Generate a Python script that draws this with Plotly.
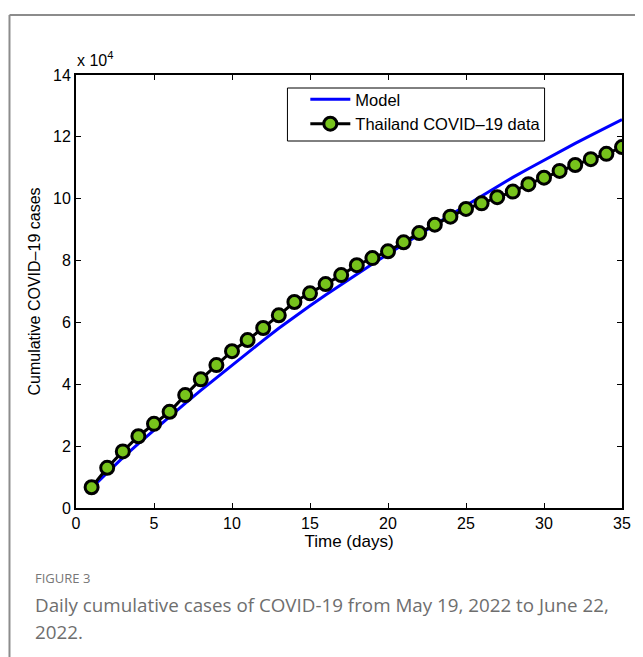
import plotly.graph_objects as go

# ---- data ----
days = list(range(1, 36))
thailand_cases = [6700, 13000, 18300, 23200, 27200, 31100, 36500, 41600, 46200, 50700,
                  54300, 58200, 62300, 66600, 69400, 72400, 75300, 78500, 80800, 83000,
                  85900, 88900, 91600, 94200, 96700, 98500, 100500, 102300, 104700, 106800,
                  109000, 110900, 112800, 114500, 116700]
model_cases = [6500, 11500, 16300, 20800, 25200, 29500, 33800, 38000, 42100, 46200,
               50200, 54200, 58100, 61800, 65400, 68900, 72300, 75600, 78900, 82100,
               85300, 88500, 91600, 94700, 97800, 100900, 104000, 106900, 109700, 112500,
               115200, 117900, 120500, 123100, 125600]
x_ticks = [0, 5, 10, 15, 20, 25, 30, 35]
y_ticks = [0, 20000, 40000, 60000, 80000, 100000, 120000, 140000]
y_tick_labels = ["0", "2", "4", "6", "8", "10", "12", "14"]

# page is 643x657; the html body has an 8px margin, so the figure starts at (8, 8)
O = 8
W, H = 643 - O, 657 - O
L, R, T, B = 76, 626, 75, 508   # plot area in page pixels
def px(x):
    return (x - L) / (R - L)
def py(y):
    return (B - y) / (B - T)

FONT = "Liberation Sans, Arial, sans-serif"

fig = go.Figure()
fig.add_trace(go.Scatter(x=days, y=model_cases, mode="lines", name="Model",
                         line=dict(color="#0000FF", width=3)))
fig.add_trace(go.Scatter(x=days, y=thailand_cases, mode="lines+markers",
                         name="Thailand COVID\u201319 data",
                         line=dict(color="black", width=3),
                         marker=dict(size=13, color="#77C31C",
                                     line=dict(color="black", width=3))))

tick_font = dict(family=FONT, size=16, color="black")
fig.update_xaxes(range=[0, 35], tickvals=x_ticks, ticks="inside", ticklen=5,
                 tickwidth=1, tickcolor="black", showline=True, linewidth=2,
                 linecolor="black", mirror="ticks", showgrid=False, zeroline=False,
                 tickfont=tick_font,
                 title=dict(text="Time (days)", font=dict(family=FONT, size=17, color="black"),
                            standoff=4))
fig.update_yaxes(range=[0, 140000], tickvals=y_ticks, ticktext=y_tick_labels,
                 ticks="inside", ticklen=5, tickwidth=1, tickcolor="black",
                 showline=True, linewidth=2, linecolor="black", mirror="ticks",
                 showgrid=False, zeroline=False, tickfont=tick_font,
                 title=dict(text="Cumulative COVID\u201319 cases",
                            font=dict(family=FONT, size=16, color="black"),
                            standoff=8))

fig.update_layout(
    width=W, height=H,
    margin=dict(l=L - O, r=643 - R, t=T - O, b=657 - B),
    paper_bgcolor="white", plot_bgcolor="white",
    showlegend=True,
    legend=dict(x=px(307), y=py(82), xanchor="left", yanchor="top",
                borderwidth=0, bgcolor="rgba(0,0,0,0)",
                font=dict(family=FONT, size=16.5, color="black"),
                tracegroupgap=0, itemwidth=40),
    shapes=[
        dict(type="rect", xref="paper", yref="paper", x0=px(289), x1=px(548),
             y0=py(141), y1=py(88), line=dict(color="black", width=1),
             fillcolor="white", layer="below"),
        dict(type="line", xref="paper", yref="paper", x0=px(9), x1=px(9),
             y0=py(15), y1=py(670), line=dict(color="#8c8c8c", width=2)),
        dict(type="line", xref="paper", yref="paper", x0=px(9), x1=px(660),
             y0=py(15), y1=py(15), line=dict(color="#8c8c8c", width=2)),
    ],
    annotations=[
        dict(text="x 10<sup>4</sup>", xref="paper", yref="paper", x=px(75), y=py(71),
             xanchor="left", yanchor="bottom", showarrow=False,
             font=dict(family=FONT, size=16, color="black")),
        dict(text="FIGURE 3", xref="paper", yref="paper", x=px(33), y=py(578),
             xanchor="left", yanchor="middle", showarrow=False,
             font=dict(family="Open Sans, sans-serif", size=13, color="#777777")),
        dict(text="Daily cumulative cases of COVID-19 from May 19, 2022 to June 22,",
             xref="paper", yref="paper", x=px(33), y=py(605), xanchor="left",
             yanchor="middle", showarrow=False,
             font=dict(family="Open Sans, sans-serif", size=18.8, color="#6e6e6e")),
        dict(text="2022.",
             xref="paper", yref="paper", x=px(33), y=py(632), xanchor="left",
             yanchor="middle", showarrow=False,
             font=dict(family="Open Sans, sans-serif", size=18.8, color="#6e6e6e")),
    ],
)

fig.write_html("out.html")
